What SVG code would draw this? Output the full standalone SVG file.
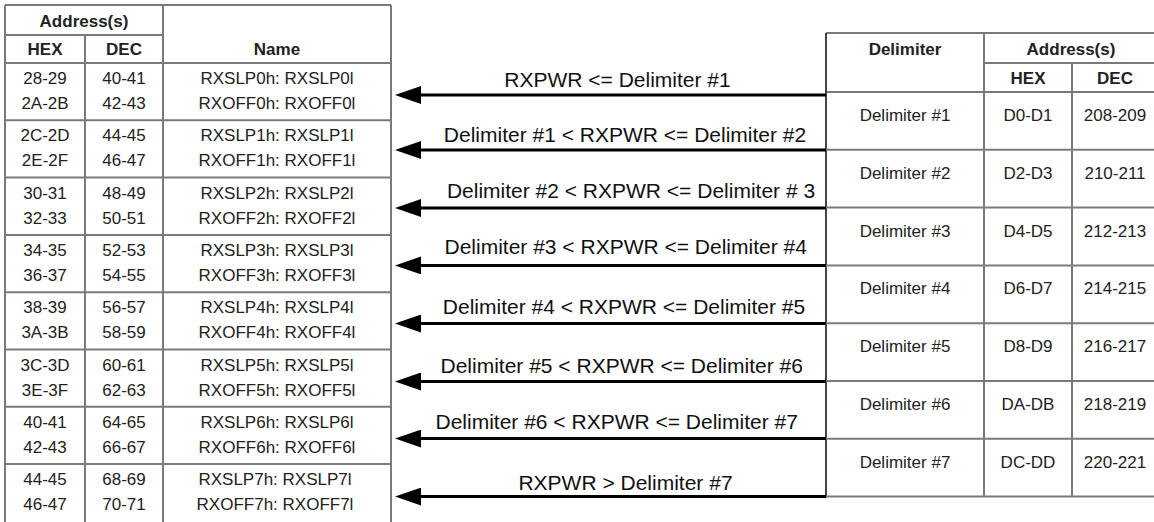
<svg xmlns="http://www.w3.org/2000/svg" width="1154" height="522" viewBox="0 0 1154 522">
<style>
.grid{stroke:#7a7a7a;stroke-width:2;fill:none}
.edge{stroke:#444;stroke-width:2;fill:none}
.t{font-family:"Liberation Sans",Arial,Helvetica,sans-serif;font-size:17px;fill:#222;text-anchor:middle}
.h{font-family:"Liberation Sans",Arial,Helvetica,sans-serif;font-size:17px;font-weight:bold;fill:#222;text-anchor:middle}
.lbl{font-family:"Liberation Sans",Arial,Helvetica,sans-serif;font-size:21px;fill:#111;text-anchor:middle}
.arrow{stroke:#000;stroke-width:3;fill:none;marker-end:url(#ah)}
</style>
<defs>
<marker id="ah" markerUnits="userSpaceOnUse" markerWidth="26" markerHeight="18" viewBox="0 0 26 18" refX="16" refY="9" orient="auto">
<path d="M0,0 L26,9 L0,18 z" fill="#000"/>
</marker>
</defs>
<rect x="0" y="0" width="1154" height="522" fill="#fff"/>

<g id="left-table">
<g id="left-header">
<path class="grid" d="M5,5 H391 M5,35 H163 M5,63 H391 M5,5 V522 M85,35 V522 M163,5 V522 M391,5 V522"/>
<text class="h" x="84" y="27">Address(s)</text>
<text class="h" x="45" y="55">HEX</text>
<text class="h" x="124" y="55">DEC</text>
<text class="h" x="277" y="55">Name</text>
</g>
<g id="left-row0">
<text class="t" x="45" y="84">28-29</text><text class="t" x="124" y="84">40-41</text><text class="t" x="277" y="84">RXSLP0h: RXSLP0l</text>
<text class="t" x="45" y="109">2A-2B</text><text class="t" x="124" y="109">42-43</text><text class="t" x="277" y="109">RXOFF0h: RXOFF0l</text>
<line class="grid" x1="5" y1="120.3" x2="391" y2="120.3"/>
</g>
<g id="left-row1">
<text class="t" x="45" y="141.3">2C-2D</text><text class="t" x="124" y="141.3">44-45</text><text class="t" x="277" y="141.3">RXSLP1h: RXSLP1l</text>
<text class="t" x="45" y="166.3">2E-2F</text><text class="t" x="124" y="166.3">46-47</text><text class="t" x="277" y="166.3">RXOFF1h: RXOFF1l</text>
<line class="grid" x1="5" y1="177.6" x2="391" y2="177.6"/>
</g>
<g id="left-row2">
<text class="t" x="45" y="198.6">30-31</text><text class="t" x="124" y="198.6">48-49</text><text class="t" x="277" y="198.6">RXSLP2h: RXSLP2l</text>
<text class="t" x="45" y="223.6">32-33</text><text class="t" x="124" y="223.6">50-51</text><text class="t" x="277" y="223.6">RXOFF2h: RXOFF2l</text>
<line class="grid" x1="5" y1="234.9" x2="391" y2="234.9"/>
</g>
<g id="left-row3">
<text class="t" x="45" y="255.9">34-35</text><text class="t" x="124" y="255.9">52-53</text><text class="t" x="277" y="255.9">RXSLP3h: RXSLP3l</text>
<text class="t" x="45" y="280.9">36-37</text><text class="t" x="124" y="280.9">54-55</text><text class="t" x="277" y="280.9">RXOFF3h: RXOFF3l</text>
<line class="grid" x1="5" y1="292.2" x2="391" y2="292.2"/>
</g>
<g id="left-row4">
<text class="t" x="45" y="313.2">38-39</text><text class="t" x="124" y="313.2">56-57</text><text class="t" x="277" y="313.2">RXSLP4h: RXSLP4l</text>
<text class="t" x="45" y="338.2">3A-3B</text><text class="t" x="124" y="338.2">58-59</text><text class="t" x="277" y="338.2">RXOFF4h: RXOFF4l</text>
<line class="grid" x1="5" y1="349.5" x2="391" y2="349.5"/>
</g>
<g id="left-row5">
<text class="t" x="45" y="370.5">3C-3D</text><text class="t" x="124" y="370.5">60-61</text><text class="t" x="277" y="370.5">RXSLP5h: RXSLP5l</text>
<text class="t" x="45" y="395.5">3E-3F</text><text class="t" x="124" y="395.5">62-63</text><text class="t" x="277" y="395.5">RXOFF5h: RXOFF5l</text>
<line class="grid" x1="5" y1="406.8" x2="391" y2="406.8"/>
</g>
<g id="left-row6">
<text class="t" x="45" y="427.8">40-41</text><text class="t" x="124" y="427.8">64-65</text><text class="t" x="277" y="427.8">RXSLP6h: RXSLP6l</text>
<text class="t" x="45" y="452.8">42-43</text><text class="t" x="124" y="452.8">66-67</text><text class="t" x="277" y="452.8">RXOFF6h: RXOFF6l</text>
<line class="grid" x1="5" y1="464.1" x2="391" y2="464.1"/>
</g>
<g id="left-row7">
<text class="t" x="45" y="485.1">44-45</text><text class="t" x="124" y="485.1">68-69</text><text class="t" x="275" y="485.1">RXSLP7h: RXSLP7l</text>
<text class="t" x="45" y="510.1">46-47</text><text class="t" x="124" y="510.1">70-71</text><text class="t" x="275" y="510.1">RXOFF7h: RXOFF7l</text>
</g>
</g>

<g id="right-table">
<g id="right-header">
<path class="grid" d="M826,33 H1158 M984,63 H1158 M826,92 H1158 M984,33 V496.6 M1072,63 V496.6 M1158,33 V496.6"/>
<line class="edge" x1="826" y1="33" x2="826" y2="497.6"/>
<text class="h" x="905" y="55">Delimiter</text>
<text class="h" x="1071" y="55">Address(s)</text>
<text class="h" x="1028" y="84">HEX</text>
<text class="h" x="1115" y="84">DEC</text>
</g>
<g id="delim1">
<text class="t" x="905" y="121">Delimiter #1</text><text class="t" x="1028" y="121">D0-D1</text><text class="t" x="1115" y="121">208-209</text>
<line class="grid" x1="826" y1="149.8" x2="1158" y2="149.8"/>
</g>
<g id="delim2">
<text class="t" x="905" y="178.8">Delimiter #2</text><text class="t" x="1028" y="178.8">D2-D3</text><text class="t" x="1115" y="178.8">210-211</text>
<line class="grid" x1="826" y1="207.6" x2="1158" y2="207.6"/>
</g>
<g id="delim3">
<text class="t" x="905" y="236.6">Delimiter #3</text><text class="t" x="1028" y="236.6">D4-D5</text><text class="t" x="1115" y="236.6">212-213</text>
<line class="grid" x1="826" y1="265.4" x2="1158" y2="265.4"/>
</g>
<g id="delim4">
<text class="t" x="905" y="294.4">Delimiter #4</text><text class="t" x="1028" y="294.4">D6-D7</text><text class="t" x="1115" y="294.4">214-215</text>
<line class="grid" x1="826" y1="323.2" x2="1158" y2="323.2"/>
</g>
<g id="delim5">
<text class="t" x="905" y="352.2">Delimiter #5</text><text class="t" x="1028" y="352.2">D8-D9</text><text class="t" x="1115" y="352.2">216-217</text>
<line class="grid" x1="826" y1="381" x2="1158" y2="381"/>
</g>
<g id="delim6">
<text class="t" x="905" y="410">Delimiter #6</text><text class="t" x="1028" y="410">DA-DB</text><text class="t" x="1115" y="410">218-219</text>
<line class="grid" x1="826" y1="438.8" x2="1158" y2="438.8"/>
</g>
<g id="delim7">
<text class="t" x="905" y="467.8">Delimiter #7</text><text class="t" x="1028" y="467.8">DC-DD</text><text class="t" x="1115" y="467.8">220-221</text>
<line class="grid" x1="826" y1="496.6" x2="1158" y2="496.6"/>
</g>
</g>

<g id="connectors">
<line class="arrow" x1="826" y1="95" x2="405" y2="95"/>
<line class="arrow" x1="826" y1="150" x2="405" y2="150"/>
<line class="arrow" x1="826" y1="208" x2="405" y2="208"/>
<line class="arrow" x1="826" y1="265.4" x2="405" y2="265.4"/>
<line class="arrow" x1="826" y1="323.5" x2="405" y2="323.5"/>
<line class="arrow" x1="826" y1="381.5" x2="405" y2="381.5"/>
<line class="arrow" x1="826" y1="438.6" x2="405" y2="438.6"/>
<line class="arrow" x1="826" y1="496.6" x2="405" y2="496.6"/>
<text class="lbl" x="617.5" y="87">RXPWR &lt;= Delimiter #1</text>
<text class="lbl" x="625" y="142">Delimiter #1 &lt; RXPWR &lt;= Delimiter #2</text>
<text class="lbl" x="631" y="198">Delimiter #2 &lt; RXPWR &lt;= Delimiter # 3</text>
<text class="lbl" x="625.7" y="254">Delimiter #3 &lt; RXPWR &lt;= Delimiter #4</text>
<text class="lbl" x="624" y="314">Delimiter #4 &lt; RXPWR &lt;= Delimiter #5</text>
<text class="lbl" x="621.7" y="373">Delimiter #5 &lt; RXPWR &lt;= Delimiter #6</text>
<text class="lbl" x="616.7" y="429">Delimiter #6 &lt; RXPWR &lt;= Delimiter #7</text>
<text class="lbl" x="625.5" y="490">RXPWR &gt; Delimiter #7</text>
</g>
</svg>
